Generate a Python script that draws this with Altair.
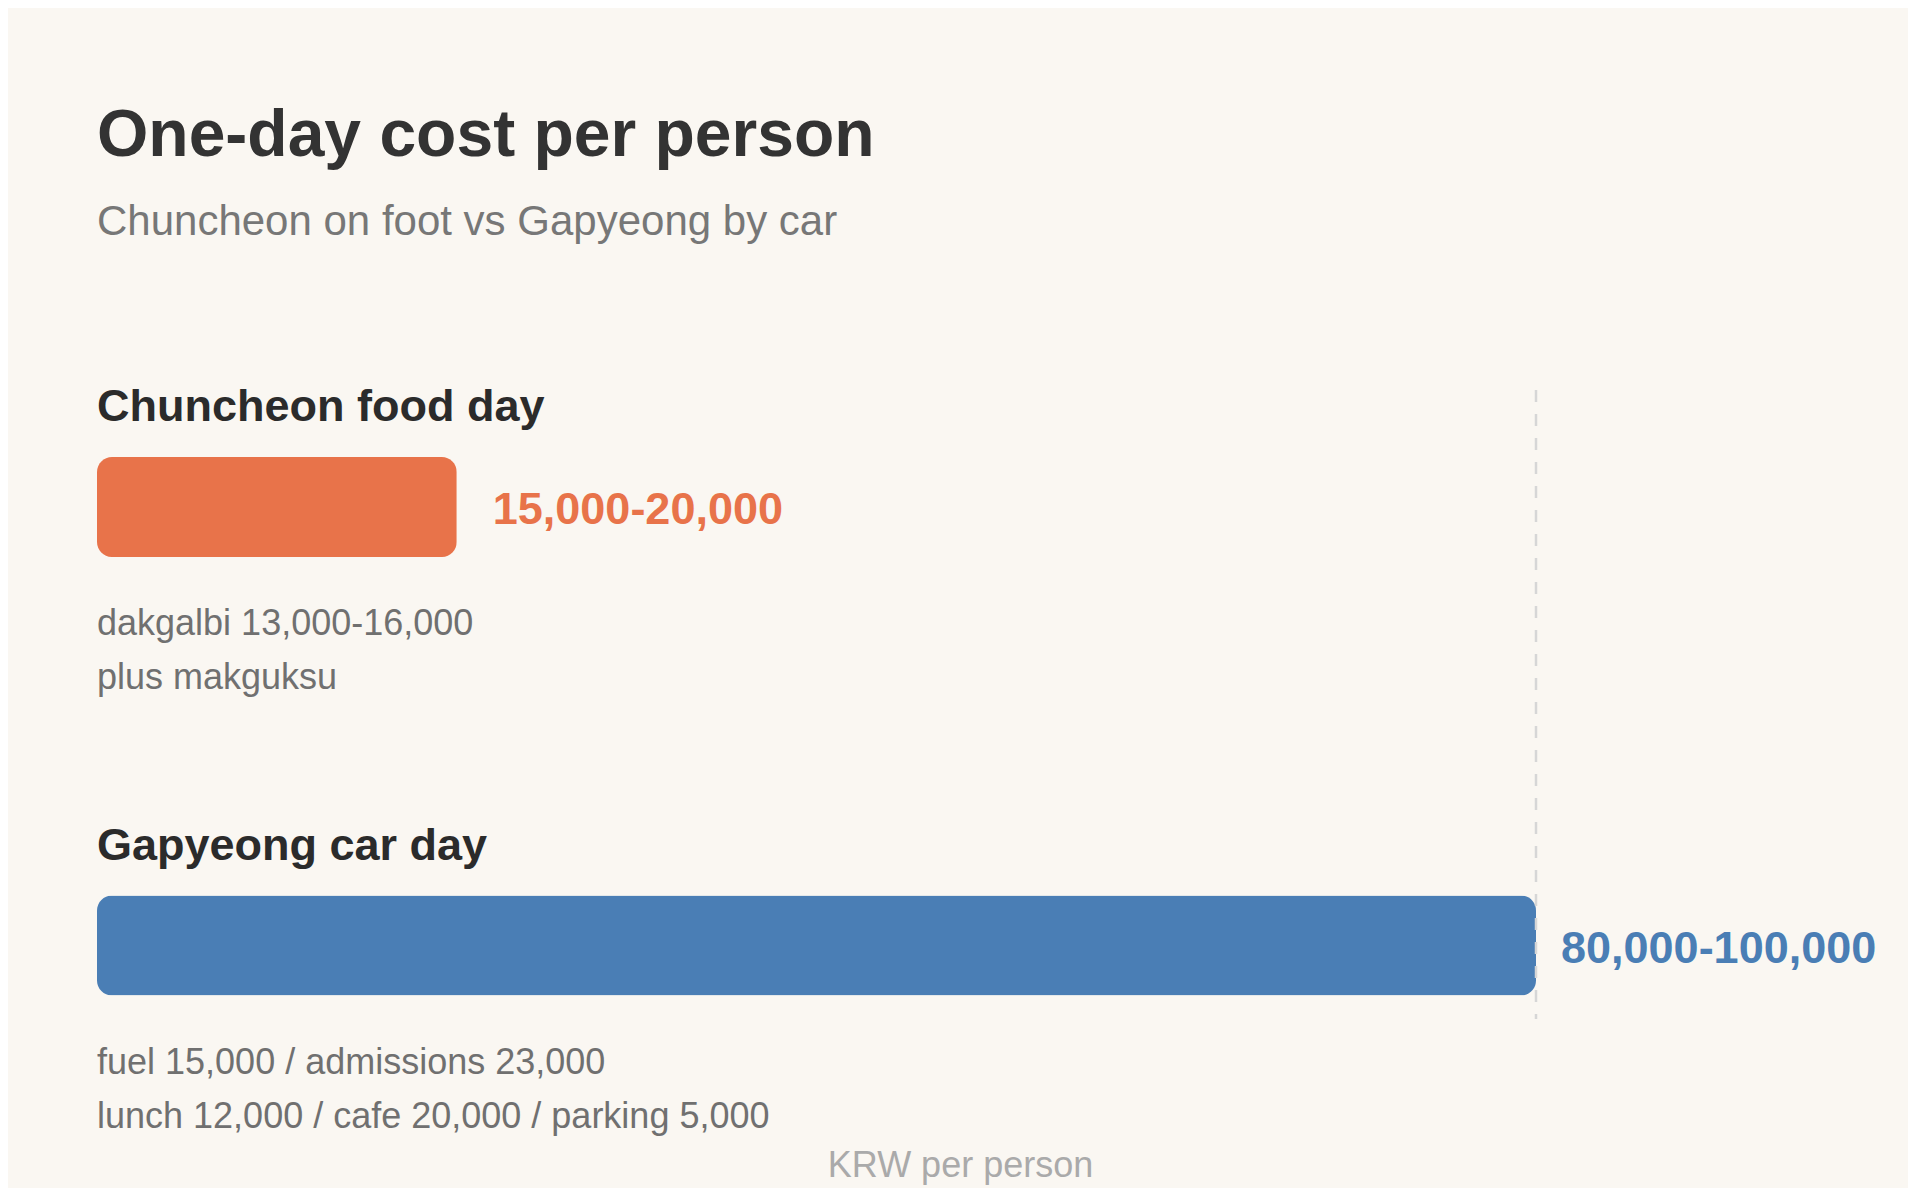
import altair as alt
import pandas as pd

# ---- data ----
categories = ["Chuncheon food day", "Gapyeong car day"]
cost_low = [15000, 80000]
cost_high = [20000, 100000]
range_labels = ["15,000-20,000", "80,000-100,000"]
note_line1 = ["dakgalbi 13,000-16,000", "fuel 15,000 / admissions 23,000"]
note_line2 = ["plus makguksu", "lunch 12,000 / cafe 20,000 / parking 5,000"]
bar_colors = ["#E8734A", "#4A7EB5"]
scale_max = 80000

df = pd.DataFrame({
    "category": categories,
    "low": cost_low,
    "high": cost_high,
    "range_label": range_labels,
    "note": [a + "\n" + b for a, b in zip(note_line1, note_line2)],
})

FONT = "Liberation Sans"

x_scale = alt.Scale(domain=[0, scale_max], clamp=True, nice=False, zero=True)
y_scale = alt.Scale(domain=categories, paddingInner=0.8, paddingOuter=0.11722, align=0.7116)
color_scale = alt.Scale(domain=categories, range=bar_colors)

x_enc = alt.X(
    "high:Q",
    scale=x_scale,
    axis=alt.Axis(
        title="KRW per person", labels=False, ticks=False, domain=False, grid=False,
        titleX=863, titleY=157, titleAlign="center", titleBaseline="alphabetic",
        titleFont=FONT, titleFontSize=36, titleFontWeight="normal", titleColor="#aaaaaa",
    ),
)
y_enc = alt.Y("category:N", scale=y_scale, axis=None)
color_enc = alt.Color("category:N", scale=color_scale, legend=None)

base = alt.Chart(df)

bars = base.mark_bar(size=100, cornerRadius=15).encode(x=x_enc, y=y_enc, color=color_enc)

rule = base.transform_aggregate(n="count()").mark_rule(
    color="#d6d6d6", strokeWidth=2.5, strokeDash=[12, 12]
).encode(x=alt.datum(scale_max))

section_labels = base.mark_text(
    align="left", baseline="alphabetic", dy=-86,
    font=FONT, fontSize=45, fontWeight="bold", color="#2b2b2b",
).encode(x=alt.datum(0), y=y_enc, text="category:N")

value_a = base.transform_filter(alt.datum.category == categories[0]).mark_text(
    align="left", baseline="alphabetic", dx=36, dy=17,
    font=FONT, fontSize=45, fontWeight="bold",
).encode(x=x_enc, y=y_enc, text="range_label:N", color=color_enc)

value_b = base.transform_filter(alt.datum.category == categories[1]).mark_text(
    align="left", baseline="alphabetic", dx=25, dy=17,
    font=FONT, fontSize=45, fontWeight="bold",
).encode(x=x_enc, y=y_enc, text="range_label:N", color=color_enc)

notes = base.mark_text(
    align="left", baseline="alphabetic", dy=128, lineBreak="\n", lineHeight=54,
    font=FONT, fontSize=36, color="#707070",
).encode(x=alt.datum(0), y=y_enc, text="note:N")

chart = alt.layer(bars, rule, section_labels, value_a, value_b, notes).properties(
    width=1439,
    height=629,
    autosize="none",
    padding={"left": 89, "top": 382, "right": 372, "bottom": 169},
    background="#FAF7F2",
    title=alt.TitleParams(
        text="One-day cost per person",
        subtitle="Chuncheon on foot vs Gapyeong by car",
        anchor="start", frame="group",
        font=FONT, fontSize=66, fontWeight="bold", color="#333333",
        subtitleFont=FONT, subtitleFontSize=42, subtitleColor="#777777",
        subtitleFontWeight="normal", subtitlePadding=32, offset=141,
    ),
).configure_view(stroke=None)

chart.save("out.html", embed_options={"renderer": "svg", "actions": False})
